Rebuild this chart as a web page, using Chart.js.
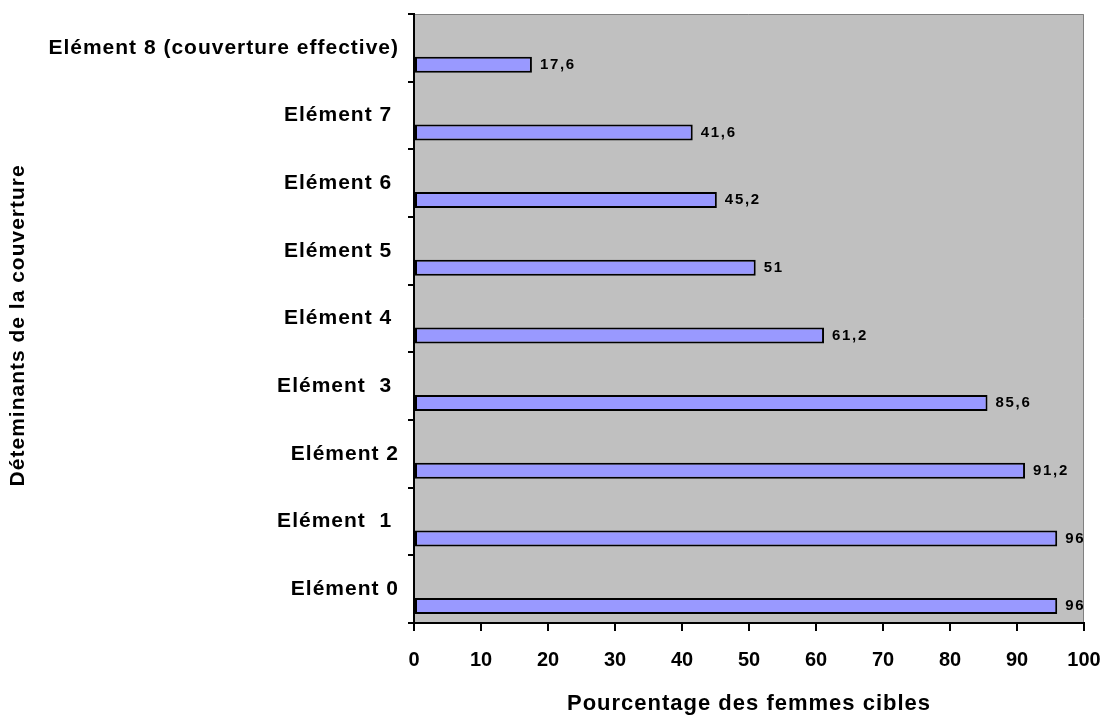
<!DOCTYPE html>
<html>
<head>
<meta charset="utf-8">
<script src="https://cdn.jsdelivr.net/npm/chart.js@4.4.1/dist/chart.umd.min.js"></script>
<style>
  html, body { margin: 0; padding: 0; background: #ffffff; }
  #wrap { width: 1103px; height: 719px; }
</style>
</head>
<body>
<div id="wrap"><canvas id="c" width="1103" height="719"></canvas></div>
<script>
// Coverage determinants, bottom (Elément 0) to top (Elément 8)
const categories = [
  'Elément 0',
  'Elément  1 ',
  'Elément 2',
  'Elément  3 ',
  'Elément 4 ',
  'Elément 5 ',
  'Elément 6 ',
  'Elément 7 ',
  'Elément 8 (couverture effective)'
];
// Percentage of target women reached at each step
const coverage = [96, 96, 91.2, 85.6, 61.2, 51, 45.2, 41.6, 17.6];
// Percentage axis ticks
const percentTicks = [0, 10, 20, 30, 40, 50, 60, 70, 80, 90, 100];

const axisTitleX = 'Pourcentage des femmes cibles';
const axisTitleY = 'Déteminants de la couverture  ';

const FONT = "'Liberation Sans', Arial, sans-serif";

const formatValue = v => String(v).replace('.', ',');

// Grey plotting area with a thin darker frame on top and right
const plotBackground = {
  id: 'plotBackground',
  beforeDraw(chart) {
    const { ctx, chartArea: a } = chart;
    ctx.save();
    ctx.fillStyle = '#c0c0c0';
    ctx.fillRect(a.left, a.top, a.right - a.left, a.bottom - a.top);
    ctx.strokeStyle = '#808080';
    ctx.lineWidth = 1;
    ctx.beginPath();
    ctx.moveTo(a.left, a.top + 0.5);
    ctx.lineTo(a.right - 0.5, a.top + 0.5);
    ctx.lineTo(a.right - 0.5, a.bottom);
    ctx.stroke();
    ctx.restore();
    ctx.letterSpacing = '1px';
  },
  afterUpdate(chart) {
    const s = chart.scales.x;
    if (!s.$plainLabels) {
      const draw = s.drawLabels;
      s.drawLabels = function (area) {
        const c = this.ctx;
        const prev = c.letterSpacing;
        c.letterSpacing = '0px';
        draw.call(this, area);
        c.letterSpacing = prev;
      };
      s.$plainLabels = true;
    }
  }
};

// Value printed just past the end of each bar
const valueLabels = {
  id: 'valueLabels',
  afterDatasetsDraw(chart) {
    const { ctx } = chart;
    const meta = chart.getDatasetMeta(1);
    ctx.save();
    ctx.letterSpacing = '1.7px';
    ctx.font = `bold 15px ${FONT}`;
    ctx.fillStyle = '#000000';
    ctx.textAlign = 'left';
    ctx.textBaseline = 'middle';
    meta.data.forEach((bar, i) => {
      ctx.fillText(formatValue(coverage[i]), bar.x + 8, bar.y);
    });
    ctx.restore();
  }
};

new Chart(document.getElementById('c'), {
  type: 'bar',
  data: {
    labels: categories,
    datasets: [
      {
        // empty companion series: keeps each bar in the lower half of its row
        data: categories.map(() => null),
        backgroundColor: 'rgba(0,0,0,0)'
      },
      {
        data: coverage,
        backgroundColor: '#9999ff',
        borderColor: '#000000',
        borderWidth: 2,
        borderSkipped: false
      }
    ]
  },
  options: {
    indexAxis: 'y',
    responsive: false,
    animation: false,
    devicePixelRatio: 1,
    categoryPercentage: 1,
    barPercentage: 0.473,
    layout: { padding: { left: 0, top: 14, right: 19, bottom: 0 } },
    plugins: {
      legend: { display: false },
      tooltip: { enabled: false },
      title: { display: false }
    },
    scales: {
      x: {
        min: percentTicks[0],
        max: percentTicks[percentTicks.length - 1],
        afterBuildTicks: s => { s.ticks = percentTicks.map(v => ({ value: v })); },
        afterFit: s => { s.height = 96; s.paddingLeft = 0; s.paddingRight = 0; },
        grid: {
          drawOnChartArea: false,
          drawTicks: true,
          tickLength: 8,
          color: '#000000',
          lineWidth: 2
        },
        border: { display: true, color: '#000000', width: 2 },
        ticks: {
          color: '#000000',
          font: { family: FONT, size: 20, weight: 'bold' },
          padding: 17,
          maxRotation: 0,
          autoSkip: false
        },
        title: {
          display: true,
          text: axisTitleX,
          color: '#000000',
          font: { family: FONT, size: 22, weight: 'bold' },
          padding: { top: 0, bottom: 2 }
        }
      },
      y: {
        reverse: true,
        afterFit: s => { s.width = 414; s.paddingTop = 0; s.paddingBottom = 0; },
        grid: {
          offset: true,
          drawOnChartArea: false,
          drawTicks: true,
          tickLength: 6,
          color: '#000000',
          lineWidth: 2
        },
        border: { display: true, color: '#000000', width: 2 },
        ticks: {
          color: '#000000',
          font: { family: FONT, size: 21, weight: 'bold' },
          padding: 9,
          autoSkip: false
        },
        title: {
          display: true,
          text: axisTitleY,
          color: '#000000',
          font: { family: FONT, size: 21, weight: 'bold' },
          padding: { top: 6, bottom: 0 }
        }
      }
    }
  },
  plugins: [plotBackground, valueLabels]
});
</script>
</body>
</html>
